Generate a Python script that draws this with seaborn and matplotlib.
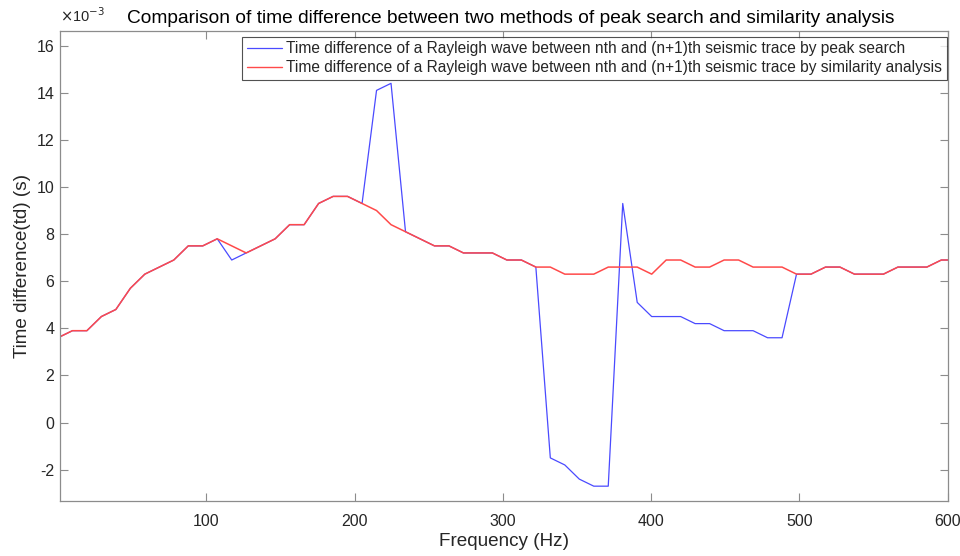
import matplotlib
matplotlib.use("Agg")
import matplotlib.pyplot as plt
import seaborn as sns
import pandas as pd
from matplotlib.lines import Line2D

# ---- data (time difference in units of 1e-3 s) ----
freq_hz = [0.00, 9.77, 19.53, 29.30, 39.06, 48.83, 58.59, 68.36, 78.13, 87.89,
           97.66, 107.42, 117.19, 126.95, 136.72, 146.48, 156.25, 166.02, 175.78, 185.55,
           195.31, 205.08, 214.84, 224.61, 234.38, 244.14, 253.91, 263.67, 273.44, 283.20,
           292.97, 302.73, 312.50, 322.27, 332.03, 341.80, 351.56, 361.33, 371.09, 380.86,
           390.63, 400.39, 410.16, 419.92, 429.69, 439.45, 449.22, 458.98, 468.75, 478.52,
           488.28, 498.05, 507.81, 517.58, 527.34, 537.11, 546.88, 556.64, 566.41, 576.17,
           585.94, 595.70, 605.47]

td_peak_search = [3.6, 3.9, 3.9, 4.5, 4.8, 5.7, 6.3, 6.6, 6.9, 7.5,
                  7.5, 7.8, 6.9, 7.2, 7.5, 7.8, 8.4, 8.4, 9.3, 9.6,
                  9.6, 9.3, 14.1, 14.4, 8.1, 7.8, 7.5, 7.5, 7.2, 7.2,
                  7.2, 6.9, 6.9, 6.6, -1.5, -1.8, -2.4, -2.7, -2.7, 9.3,
                  5.1, 4.5, 4.5, 4.5, 4.2, 4.2, 3.9, 3.9, 3.9, 3.6,
                  3.6, 6.3, 6.3, 6.6, 6.6, 6.3, 6.3, 6.3, 6.6, 6.6,
                  6.6, 6.9, 6.9]

td_similarity = [3.6, 3.9, 3.9, 4.5, 4.8, 5.7, 6.3, 6.6, 6.9, 7.5,
                 7.5, 7.8, 7.5, 7.2, 7.5, 7.8, 8.4, 8.4, 9.3, 9.6,
                 9.6, 9.3, 9.0, 8.4, 8.1, 7.8, 7.5, 7.5, 7.2, 7.2,
                 7.2, 6.9, 6.9, 6.6, 6.6, 6.3, 6.3, 6.3, 6.6, 6.6,
                 6.6, 6.3, 6.9, 6.9, 6.6, 6.6, 6.9, 6.9, 6.6, 6.6,
                 6.6, 6.3, 6.3, 6.6, 6.6, 6.3, 6.3, 6.3, 6.6, 6.6,
                 6.6, 6.9, 6.9]

label_peak = "Time difference of a Rayleigh wave between nth and (n+1)th seismic trace by peak search"
label_sim = "Time difference of a Rayleigh wave between nth and (n+1)th seismic trace by similarity analysis"

x_ticks = [100, 200, 300, 400, 500, 600]
y_ticks = [-2, 0, 2, 4, 6, 8, 10, 12, 14, 16]

df = pd.DataFrame({
    "freq": freq_hz + freq_hz,
    "td": td_peak_search + td_similarity,
    "method": [label_peak] * len(freq_hz) + [label_sim] * len(freq_hz),
})

sns.set_theme(style="ticks")
plt.rcParams["font.family"] = ["Liberation Sans", "DejaVu Sans"]
plt.rcParams["axes.unicode_minus"] = False

blue = "#4a4aff"
red = "#ff4a4a"

fig = plt.figure(figsize=(9.6, 5.56), dpi=100)
ax = fig.add_axes([0.0622, 0.0989, 0.9250, 0.8453])

sns.lineplot(data=df[df["method"] == label_peak], x="freq", y="td", sort=False,
             color=blue, linewidth=0.9, ax=ax, legend=False)
sns.lineplot(data=df[df["method"] == label_sim], x="freq", y="td", sort=False,
             color=red, linewidth=1.1, ax=ax, legend=False)

ax.set_xlim(1.2, 600)
ax.set_ylim(-3.33, 16.62)
ax.set_xticks(x_ticks)
ax.set_yticks(y_ticks)

spine_col = "#8c8c8c"
for s in ax.spines.values():
    s.set_color(spine_col)
    s.set_linewidth(0.9)
ax.tick_params(axis="both", which="major", direction="in", length=6,
               width=0.8, color=spine_col, top=True, right=True,
               labelsize=11.5, labelcolor="#262626")
ax.tick_params(axis="x", pad=9)
ax.tick_params(axis="y", pad=4)

ax.set_xlabel("Frequency (Hz)", fontsize=13.6, color="#262626", labelpad=3)
ax.set_ylabel("Time difference(td) (s)", fontsize=13.6, color="#262626", labelpad=4)
ax.set_title("Comparison of time difference between two methods of peak search and similarity analysis",
             fontsize=13.8, color="#000000", pad=6, x=0.508)
ax.text(0.0, 1.012, r"$\times$10$^{-3}$", transform=ax.transAxes,
        fontsize=10.5, color="#262626", ha="left", va="bottom")

handles = [Line2D([], [], color=blue, lw=0.9),
           Line2D([], [], color=red, lw=1.0)]
leg = ax.legend(handles, [label_peak, label_sim], loc="upper right",
                bbox_to_anchor=(0.999, 0.988), borderaxespad=0, fontsize=11.2,
                frameon=True, fancybox=False, handlelength=2.3,
                handletextpad=0.25, borderpad=0.3, labelspacing=0.25)
leg.get_frame().set_edgecolor("#262626")
leg.get_frame().set_linewidth(0.8)

fig.savefig("out.png", dpi=100)
